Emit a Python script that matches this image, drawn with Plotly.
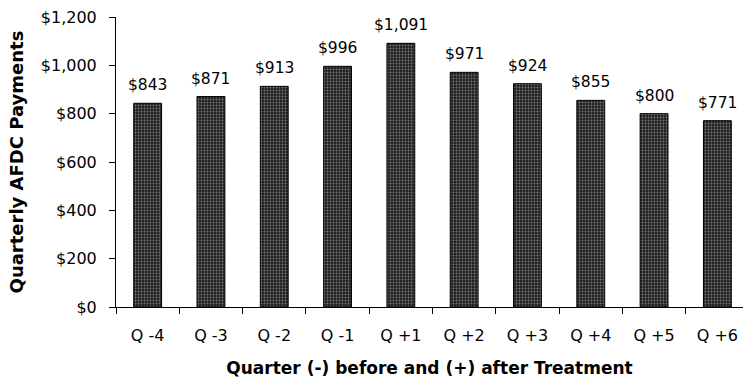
import plotly.graph_objects as go

categories = ["Q -4", "Q -3", "Q -2", "Q -1", "Q +1", "Q +2", "Q +3", "Q +4", "Q +5", "Q +6"]
payments = [843, 871, 913, 996, 1091, 971, 924, 855, 800, 771]
bar_labels = ["$843", "$871", "$913", "$996", "$1,091", "$971", "$924", "$855", "$800", "$771"]
y_tick_values = [0, 200, 400, 600, 800, 1000, 1200]
y_tick_labels = ["$0", "$200", "$400", "$600", "$800", "$1,000", "$1,200"]

FONT = "DejaVu Sans"

fig = go.Figure()
fig.add_trace(go.Bar(
    x=categories,
    y=payments,
    marker=dict(
        color="#202020",
        line=dict(color="black", width=1),
        pattern=dict(shape=".", fgcolor="#d0d0d0", bgcolor="#202020", size=3, solidity=0.3),
    ),
    showlegend=False,
))

for c, v, t in zip(categories, payments, bar_labels):
    fig.add_annotation(x=c, y=v, text=t, showarrow=False, yanchor="bottom",
                       yshift=7, font=dict(family=FONT, size=15.5, color="black"))

fig.update_layout(
    width=743, height=381,
    margin=dict(l=116, r=0, t=17, b=74),
    plot_bgcolor="white", paper_bgcolor="white",
    bargap=0.56,
    font=dict(family=FONT, color="black"),
)
fig.update_xaxes(
    range=[-0.5, 9.405],
    showline=True, linecolor="black", linewidth=1,
    ticks="outside", tickson="boundaries", ticklen=6, tickcolor="black",
    tickfont=dict(family=FONT, size=16, color="black"),
    ticklabelstandoff=14,
    showgrid=False, zeroline=False,
    title=dict(text="<b>Quarter (-) before and (+) after Treatment</b>",
               font=dict(family=FONT, size=17, color="black"), standoff=17),
)
fig.update_yaxes(
    range=[0, 1200],
    tickvals=y_tick_values, ticktext=y_tick_labels,
    showline=True, linecolor="black", linewidth=1,
    ticks="outside", ticklen=6, tickcolor="black",
    tickfont=dict(family=FONT, size=16, color="black"),
    ticklabelstandoff=9,
    showgrid=False, zeroline=False,
    title=dict(text="<b>Quarterly AFDC Payments</b>",
               font=dict(family=FONT, size=18, color="black"), standoff=12),
)

fig.write_html("out.html")
